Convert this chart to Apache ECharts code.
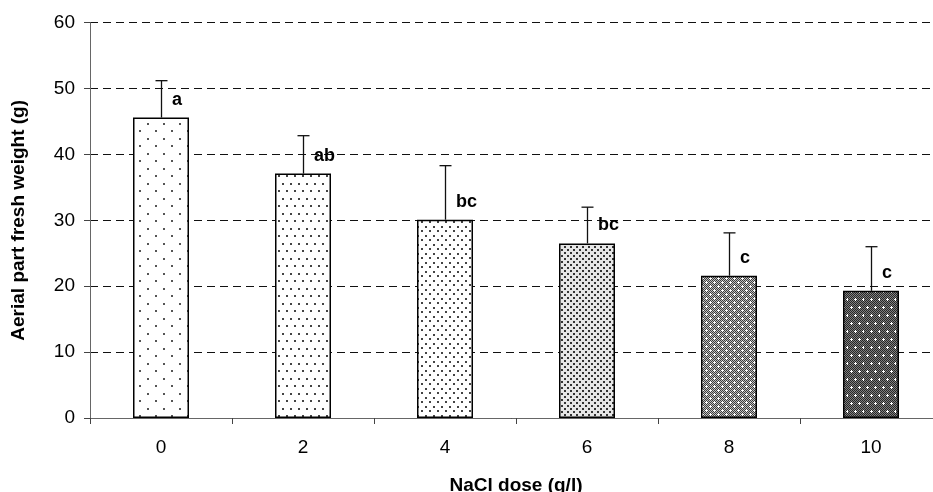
<!DOCTYPE html>
<html>
<head>
<meta charset="utf-8">
<script src="https://cdn.jsdelivr.net/npm/echarts@6/dist/echarts.min.js"></script>
<style>
  html, body { margin: 0; padding: 0; background: #fff; }
  #chart { width: 933px; height: 492px; }
</style>
</head>
<body>
<div id="chart"></div>
<script>
// NaCl doses (g/l) on the x axis
const doses = ['0', '2', '4', '6', '8', '10'];
// Mean aerial part fresh weight (g)
const meanWeight = [45.6, 37.1, 30.1, 26.5, 21.6, 19.3];
// Standard deviation (upper error bar)
const sdWeight = [5.6, 5.75, 8.2, 5.5, 6.5, 6.7];
// Significance letters
const groupLetters = ['a', 'ab', 'bc', 'bc', 'c', 'c'];
// Y axis range
const yMin = 0, yMax = 60, yStep = 10;

// Small repeating canvas tiles used as hatch fills
function tile(w, h, bg, draw) {
  const c = document.createElement('canvas');
  c.width = w; c.height = h;
  const ctx = c.getContext('2d');
  ctx.fillStyle = bg;
  ctx.fillRect(0, 0, w, h);
  draw(ctx);
  return { image: c, repeat: 'repeat' };
}
function dots(ctx, pts, size, col) {
  ctx.fillStyle = col;
  pts.forEach(p => ctx.fillRect(p[0], p[1], size, size));
}
function checker(ctx, w, h, a, b) {
  for (let y = 0; y < h; y++) {
    for (let x = 0; x < w; x++) {
      ctx.fillStyle = ((x + y) % 2 === 0) ? a : b;
      ctx.fillRect(x, y, 1, 1);
    }
  }
}
function plus(ctx, x, y, col) {
  ctx.fillStyle = col;
  ctx.fillRect(x - 1, y, 3, 1);
  ctx.fillRect(x, y - 1, 1, 3);
}

const fills = [
  tile(16, 15, '#ffffff', ctx => dots(ctx, [[3, 3], [11, 10]], 2, '#555')),
  tile(8, 15, '#ffffff', ctx => dots(ctx, [[2, 3], [6, 10]], 2, '#444')),
  tile(8, 9, '#ffffff', ctx => dots(ctx, [[1, 1], [5, 5]], 2, '#444')),
  tile(6, 6, '#e6e6e6', ctx => dots(ctx, [[0, 0], [3, 3]], 2, '#333')),
  tile(8, 8, '#888', ctx => { checker(ctx, 8, 8, '#3c3c3c', '#c0c0c0'); plus(ctx, 2, 2, '#fff'); plus(ctx, 6, 6, '#fff'); }),
  tile(16, 16, '#555', ctx => { checker(ctx, 16, 16, '#262626', '#808080'); plus(ctx, 3, 3, '#fff'); plus(ctx, 11, 3, '#fff'); plus(ctx, 7, 11, '#fff'); plus(ctx, 15, 11, '#fff'); })
];

const chart = echarts.init(document.getElementById('chart'), null, { renderer: 'canvas' });

const option = {
  animation: false,
  backgroundColor: '#ffffff',
  grid: { left: 90, top: 22.7, right: -9, bottom: 74, containLabel: false, outerBoundsMode: 'none' },
  xAxis: {
    type: 'category',
    data: doses,
    name: 'NaCl dose (g/l)',
    nameLocation: 'middle',
    nameGap: 58,
    nameTextStyle: { fontFamily: 'Liberation Sans, Arial', fontWeight: 'bold', fontSize: 19, color: '#000' },
    axisLine: { show: true, lineStyle: { color: '#666', width: 1 } },
    axisTick: { show: true, alignWithLabel: false, length: 6, lineStyle: { color: '#444' } },
    axisLabel: { margin: 20, fontFamily: 'Liberation Sans, Arial', fontSize: 19, color: '#000' },
    splitLine: { show: false }
  },
  yAxis: {
    type: 'value',
    min: yMin, max: yMax, interval: yStep,
    name: 'Aerial part fresh weight (g)',
    nameLocation: 'middle',
    nameGap: 62,
    nameTextStyle: { fontFamily: 'Liberation Sans, Arial', fontWeight: 'bold', fontSize: 19, color: '#000' },
    axisLine: { show: true, lineStyle: { color: '#666', width: 1 } },
    axisTick: { show: true, inside: false, length: 6, lineStyle: { color: '#444' } },
    axisLabel: { margin: 15, fontFamily: 'Liberation Sans, Arial', fontSize: 19, color: '#000' },
    splitLine: { show: true, lineStyle: { color: '#111', width: 1, type: [8, 5] } }
  },
  series: [
    {
      type: 'bar',
      barWidth: 56,
      data: meanWeight.map((v, i) => ({
        value: v,
        itemStyle: { color: fills[i], borderColor: '#000', borderWidth: 1.5 }
      })),
      label: {
        show: true,
        position: ['50%', 0],
        offset: [11, -18],
        align: 'left',
        verticalAlign: 'middle',
        formatter: p => groupLetters[p.dataIndex],
        fontFamily: 'Liberation Sans, Arial',
        fontWeight: 'bold',
        fontSize: 18,
        color: '#000'
      },
      z: 2
    },
    {
      type: 'custom',
      data: meanWeight.map((m, i) => [i, m, m + sdWeight[i]]),
      renderItem: (params, api) => {
        const base = api.coord([api.value(0), api.value(1)]);
        const top = api.coord([api.value(0), api.value(2)]);
        const x = Math.round(base[0]) + 0.5;
        const st = { stroke: '#111', lineWidth: 1.3 };
        return {
          type: 'group',
          children: [
            { type: 'line', shape: { x1: x, y1: base[1], x2: x, y2: top[1] }, style: st },
            { type: 'line', shape: { x1: x - 6, y1: top[1], x2: x + 6, y2: top[1] }, style: st }
          ]
        };
      },
      z: 3
    }
  ]
};

chart.setOption(option);
</script>
</body>
</html>
